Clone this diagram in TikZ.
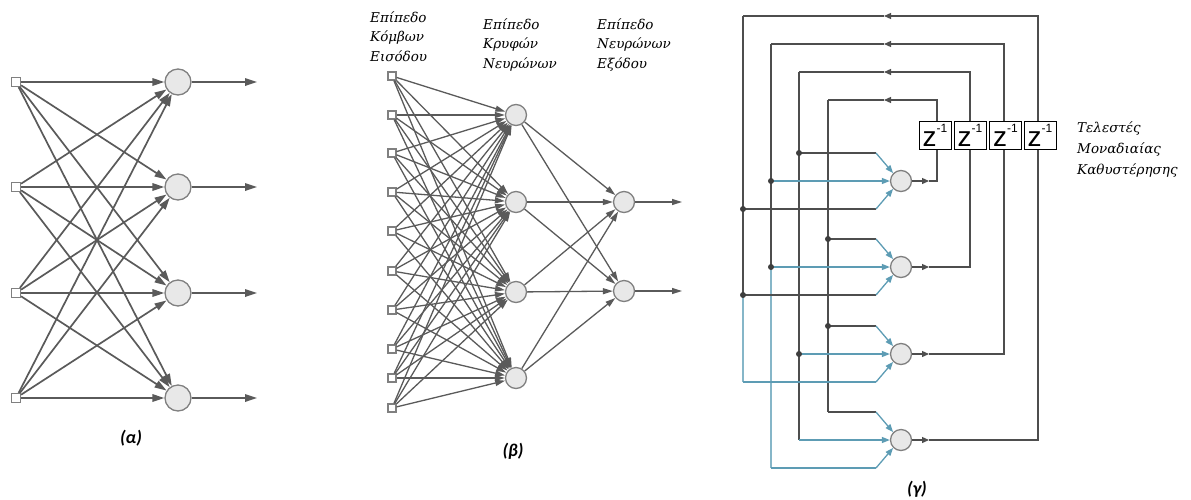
\documentclass[tikz,border=0pt]{standalone}
\usepackage{fontspec}
\newfontfamily\capfont{Carlito}
\newfontfamily\hdfont{DejaVu Serif}
\newfontfamily\zfont{Liberation Sans}
\usetikzlibrary{arrows.meta}

\definecolor{wire}{HTML}{5A5A5A}
\definecolor{cellfill}{HTML}{E8E8E8}
\definecolor{cellline}{HTML}{808080}
\definecolor{loopgray}{HTML}{4E4E4E}
\definecolor{inteal}{HTML}{5D9CB4}
\definecolor{busteal}{HTML}{86B6C8}
\definecolor{dotgray}{HTML}{3E3E3E}

\begin{document}
\begin{tikzpicture}[x=1pt,y=-1pt,
  inbox/.style={draw=cellline, fill=white, line width=1.2pt, minimum size=#1, inner sep=0pt},
  cell/.style={circle, draw=cellline, fill=cellfill, line width=1.3pt, minimum size=#1, inner sep=0pt},
  synA/.style={draw=wire, line width=1.7pt, -{Triangle[length=12pt,width=7.5pt]}},
  synB/.style={draw=wire, line width=1.3pt, -{Triangle[length=10pt,width=6pt]}},
  loop/.style={draw=loopgray, line width=1.3pt},
  looptip/.style={loop, -{Triangle[length=7pt,width=6pt]}},
  feed/.style={draw=inteal, line width=1.3pt},
  feedtip/.style={feed, -{Triangle[length=8pt,width=6pt]}},
  bus/.style={draw=busteal, line width=1.3pt},
  tap/.style={circle, fill=dotgray, minimum size=6pt, inner sep=0pt},
  delay/.style={draw=black, fill=white, line width=0.9pt, minimum width=32pt, minimum height=28pt, inner sep=0pt},
  head/.style={anchor=north west, inner sep=0pt, align=left, font=\hdfont\itshape\fontsize{13.5}{19.5}\selectfont},
  headwide/.style={head, font=\hdfont\itshape\fontsize{13.5}{21}\selectfont},
  tag/.style={font=\capfont\bfseries\itshape\fontsize{18}{18}\selectfont, inner sep=0pt}
]
\useasboundingbox (0,0) rectangle (1191,499);

% ---------- (a) single-layer network ----------
\foreach \i/\y in {1/82,2/187,3/293,4/398} {
  \node[inbox=9pt] (a\i) at (16,\y) {};
  \node[cell=26pt] (A\i) at (178,\y) {};
  \coordinate (ao\i) at (257,\y);
}
\foreach \i in {1,...,4} {
  \foreach \j in {1,...,4} \draw[synA] (a\i) -- (A\j);
  \draw[synA] (A\i) -- (ao\i);
}
\node[tag] (ta) at (131,438) {(α)};

% ---------- (b) network with one hidden layer ----------
\foreach \i/\y in {1/76,2/115,3/153,4/192,5/231,6/271,7/310,8/349,9/378,10/408}
  \node[inbox=8pt] (b\i) at (392,\y) {};
\foreach \j/\y in {1/115,2/202,3/292,4/378}
  \node[cell=21pt] (H\j) at (516,\y) {};
\foreach \k/\y in {1/202,2/291} {
  \node[cell=21pt] (O\k) at (624,\y) {};
  \coordinate (bo\k) at (682,\y);
}
\foreach \i in {1,...,10} \foreach \j in {1,...,4} \draw[synB] (b\i) -- (H\j);
\foreach \j in {1,...,4} \foreach \k in {1,2} \draw[synB] (H\j) -- (O\k);
\foreach \k in {1,2} \draw[synB] (O\k) -- (bo\k);
\node[head] (hb1) at (370,11) {Επίπεδο\\Κόμβων\\Εισόδου};
\node[head] (hb2) at (483,18) {Επίπεδο\\Κρυφών\\Νευρώνων};
\node[head] (hb3) at (597,18) {Επίπεδο\\Νευρώνων\\Εξόδου};
\node[tag] (tb) at (513,451) {(β)};

% ---------- (c) recurrent network with unit delays ----------
\foreach \i/\y in {1/181,2/267,3/354,4/440} {
  \node[cell=21pt] (N\i) at (901,\y) {};
  \path (N\i) ++(28,0) coordinate (no\i);
}
\coordinate (knee) at (876,0);

% taps on the left buses and bus corners
\coordinate (p12) at (799,153);
\coordinate (p13) at (771,181);
\coordinate (p14) at (743,209);
\coordinate (p21) at (828,239);
\coordinate (p23) at (771,267);
\coordinate (p24) at (743,295);
\coordinate (p31) at (828,326);
\coordinate (p32) at (799,354);
\coordinate (c34) at (743,382);
\coordinate (c41) at (828,412);
\coordinate (c42) at (799,440);
\coordinate (c43) at (771,468);

% output -> right column -> top rail -> left bus
\foreach \i/\lx/\rx/\ty in {1/828/937/100,2/799/970/72,3/771/1004/44,4/743/1038/16} {
  \coordinate (Rt\i) at (\rx,\ty);
  \coordinate (Lt\i) at (\lx,\ty);
  \coordinate (Tm\i) at (884,\ty);
  \draw[looptip] (N\i) -- (no\i);
  \draw[looptip] (no\i) -- (Rt\i |- no\i) -- (Rt\i) -- (Tm\i);
  \draw[loop] (Tm\i) -- (Lt\i);
}
\draw[loop] (Lt1) -- (c41);
\draw[loop] (Lt2) -- (c42);
\draw[loop] (Lt3) -- (p23);
\draw[bus]  (p23) -- (c43);
\draw[loop] (Lt4) -- (p24);
\draw[bus]  (p24) -- (c34);

% inputs of neuron 1
\draw[loop] (p12) -- (p12 -| knee);
\draw[feedtip] (p12 -| knee) -- (N1.135);
\draw[feedtip] (p13) -- (N1.west);
\draw[loop] (p14) -- (p14 -| knee);
\draw[feedtip] (p14 -| knee) -- (N1.225);
% inputs of neuron 2
\draw[loop] (p21) -- (p21 -| knee);
\draw[feedtip] (p21 -| knee) -- (N2.135);
\draw[feedtip] (p23) -- (N2.west);
\draw[loop] (p24) -- (p24 -| knee);
\draw[feedtip] (p24 -| knee) -- (N2.225);
% inputs of neuron 3
\draw[loop] (p31) -- (p31 -| knee);
\draw[feedtip] (p31 -| knee) -- (N3.135);
\draw[feedtip] (p32) -- (N3.west);
\draw[feed] (c34) -- (c34 -| knee);
\draw[feedtip] (c34 -| knee) -- (N3.225);
% inputs of neuron 4
\draw[loop] (c41) -- (c41 -| knee);
\draw[feedtip] (c41 -| knee) -- (N4.135);
\draw[feedtip] (c42) -- (N4.west);
\draw[feed] (c43) -- (c43 -| knee);
\draw[feedtip] (c43 -| knee) -- (N4.225);

% junction dots
\foreach \p in {p12,p13,p14,p21,p23,p24,p31,p32}
  \node[tap] at (\p) {};

% unit delay operators
\foreach \i/\rx in {1/935,2/970,3/1005.5,4/1040}
  \node[delay] (z\i) at (\rx,135.5)
    {\zfont\fontsize{28}{28}\selectfont z\raisebox{13.5pt}{\fontsize{12}{12}\selectfont -1}};
\node[headwide] (hz) at (1077,121) {Τελεστές\\Μοναδιαίας\\Καθυστέρησης};
\node[tag] (tg) at (917,489) {(γ)};
\end{tikzpicture}
\end{document}
